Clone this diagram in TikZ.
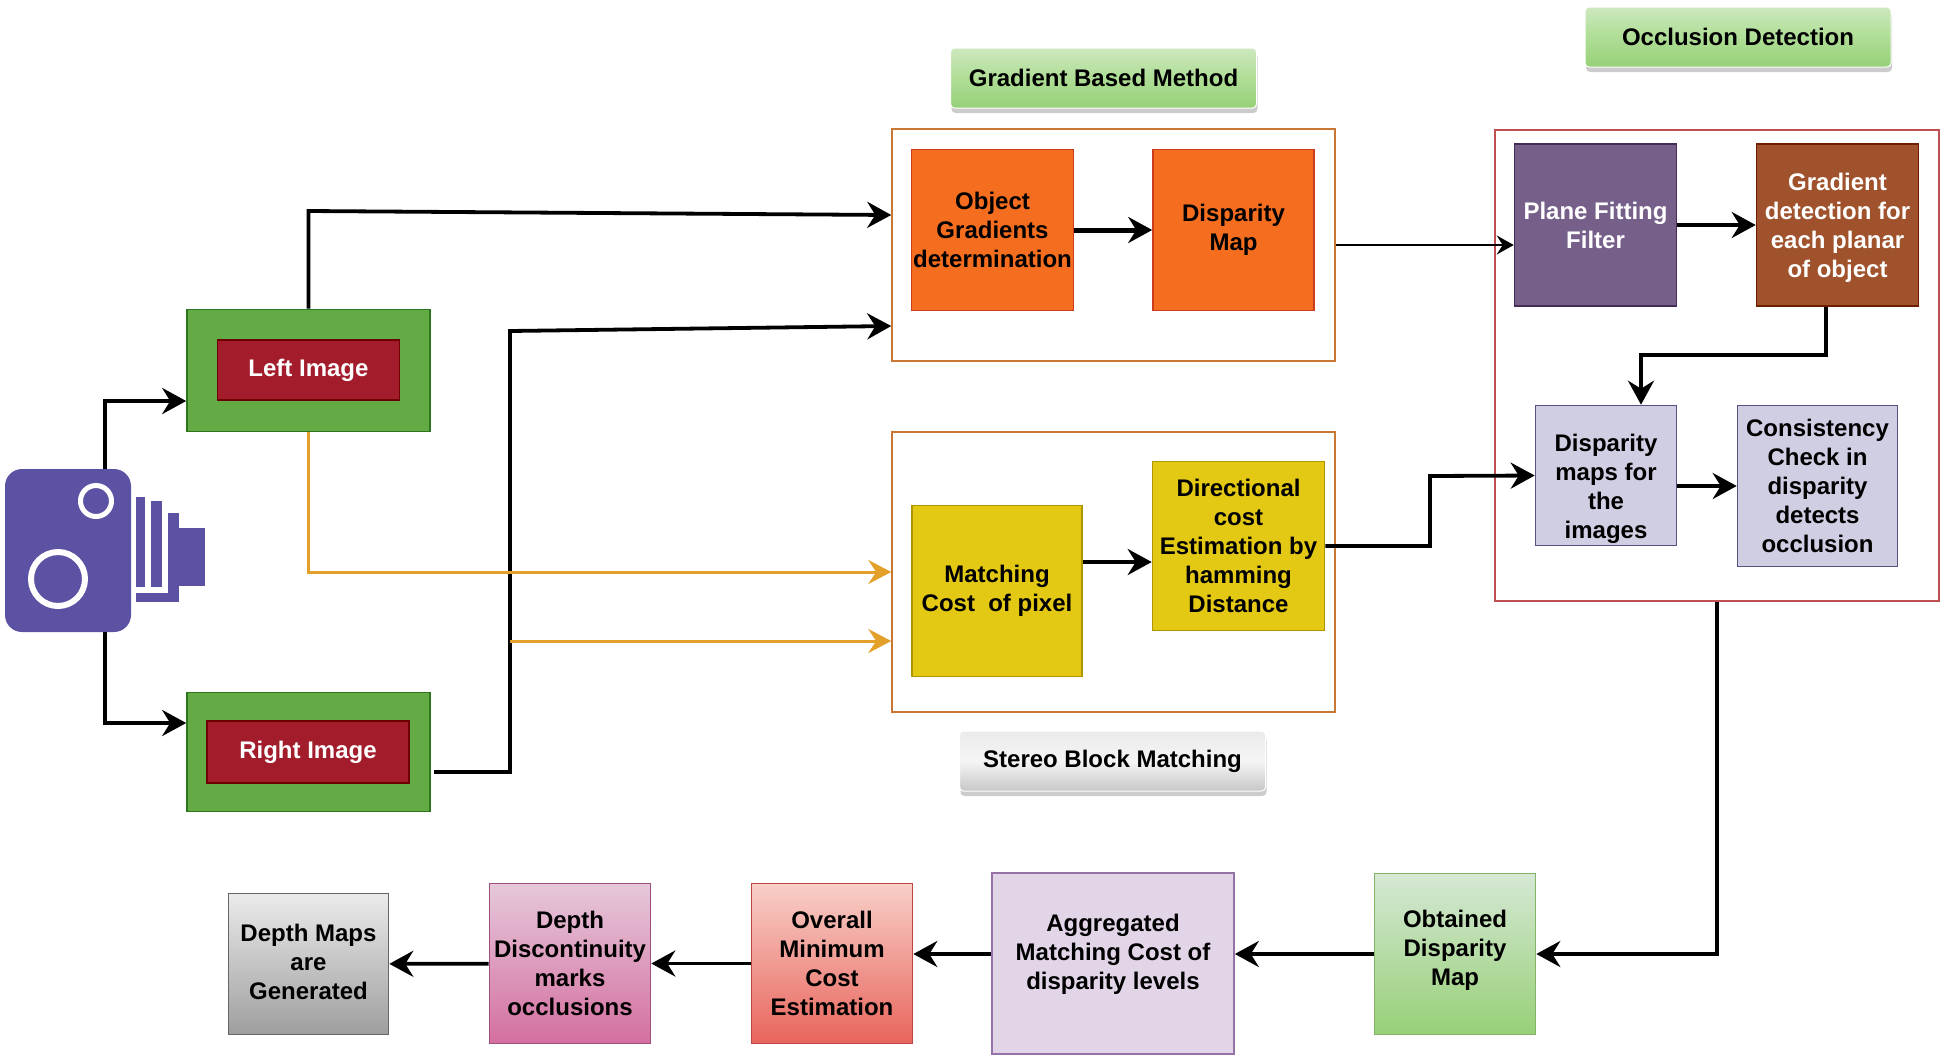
\documentclass[tikz,border=0pt]{standalone}
\usepackage{fontspec}
\setmainfont{Liberation Sans}
\usetikzlibrary{positioning,arrows.meta,calc,shadows}

\definecolor{camblue}{HTML}{5C52A3}
\definecolor{wireorange}{HTML}{E3A02A}

\tikzset{
  boxsize/.style 2 args={minimum width=#1pt,minimum height=#2pt},
  blk/.style={rectangle,inner sep=0pt,draw,line width=1.6pt,align=center,
    font=\fontsize{24}{29}\selectfont\bfseries},
  orangebox/.style={blk,fill={rgb,255:red,245;green,109;blue,31},draw={rgb,255:red,205;green,60;blue,30}},
  yellowbox/.style={blk,fill={rgb,255:red,227;green,200;blue,20},draw={rgb,255:red,176;green,149;blue,0}},
  lavbox/.style={blk,fill={rgb,255:red,208;green,206;blue,226},draw={rgb,255:red,86;green,81;blue,126}},
  greenbox/.style={blk,fill={rgb,255:red,98;green,171;blue,69},draw={rgb,255:red,45;green,118;blue,30}},
  redbox/.style={blk,text=white,fill={rgb,255:red,162;green,28;blue,44},draw={rgb,255:red,111;green,0;blue,0}},
  framebox/.style={rectangle,draw,line width=1.5pt},
  tagbox/.style={blk,draw=white,line width=1pt,rounded corners=4pt,boxsize={306}{60},
    drop shadow={shadow xshift=1pt,shadow yshift=-5pt,fill=black!40}},
  wire/.style={line width=3.8pt,-{Stealth[length=24pt,width=26pt,inset=8pt]}},
  thinwire/.style={line width=2pt,-{Stealth[length=17pt,width=19pt,inset=6pt]}},
  orangewire/.style={line width=3pt,draw=wireorange,-{Stealth[length=23pt,width=24pt,inset=8pt,fill=wireorange]}},
}

\begin{document}
\begin{tikzpicture}[x=1pt,y=-1pt]

  \useasboundingbox (0,0) rectangle (1945,1061);

  % the two framed groups
  \node[framebox,draw={rgb,255:red,200;green,120;blue,50},boxsize={443}{232}] (gradframe) at (1113.5,245) {};
  \node[framebox,draw={rgb,255:red,200;green,120;blue,50},boxsize={443}{280}] (stereoframe) at (1113.5,572) {};
  \node[framebox,draw={rgb,255:red,190;green,80;blue,80},boxsize={444}{471}] (occlframe) at (1717,365.5) {};

  % group titles
  \node[tagbox,top color={rgb,255:red,205;green,232;blue,190},bottom color={rgb,255:red,150;green,208;blue,120},middle color={rgb,255:red,175;green,222;blue,150}] (gradtag) at (1103.5,78) {Gradient Based Method};
  \node[tagbox,top color={rgb,255:red,205;green,232;blue,190},bottom color={rgb,255:red,150;green,208;blue,120},middle color={rgb,255:red,175;green,222;blue,150}] (occltag) at (1738,37) {Occlusion Detection};
  \node[tagbox,top color=black!8,bottom color=black!22,middle color=black!4] (stereotag) at (1112.5,761) {Stereo Block Matching};

  % camera
  \node[fill=camblue,rounded corners=17pt,inner sep=0pt,boxsize={126}{163}] (camera) at (68,550.5) {};
  \draw[white,line width=5pt] (96,501) circle (15.5);
  \draw[white,line width=6pt] (58,579) circle (27);
  \fill[camblue] (136,497) rectangle (145,587);
  \fill[camblue] (151,501) rectangle (162,587);
  \fill[camblue] (168,513) rectangle (179,602);
  \fill[camblue] (136,593) rectangle (179,602);
  \fill[camblue] (179,528) rectangle (205,586);

  % inputs
  \node[greenbox,boxsize={243}{122}] (leftouter) at (308.5,370.5) {};
  \node[redbox,boxsize={182}{60}] (leftimg) at (308.5,370) {Left Image};
  \node[greenbox,boxsize={243}{119}] (rightouter) at (308.5,752) {};
  \node[redbox,boxsize={202}{62}] (rightimg) at (308,752) {Right Image};

  % gradient based method
  \node[orangebox,boxsize={162}{161}] (objgrad) at (992.5,230) {Object\\Gradients\\determination};
  \node[orangebox,boxsize={161}{161}] (dispmap) at (1233.5,230) {Disparity\\Map};

  % stereo block matching
  \node[yellowbox,boxsize={170}{171}] (matchcost) at (997,591) {Matching\\Cost~ of pixel};
  \node[yellowbox,boxsize={172}{169}] (dircost) at (1238.5,546) {Directional\\cost\\Estimation by\\hamming\\Distance};

  % occlusion detection
  \node[blk,text=white,fill={rgb,255:red,118;green,96;blue,138},draw={rgb,255:red,67;green,45;blue,87},boxsize={162}{162}] (planefit) at (1595.5,225) {Plane Fitting\\Filter};
  \node[blk,text=white,fill={rgb,255:red,160;green,82;blue,45},draw={rgb,255:red,109;green,31;blue,0},boxsize={162}{162}] (graddet) at (1837.5,225) {\rule{0pt}{22pt}Gradient\\detection for\\each planar\\of object};
  \node[lavbox,boxsize={141}{140}] (dispmaps) at (1606,475.5) {\rule{0pt}{44pt}Disparity\\maps for\\the\\images};
  \node[lavbox,boxsize={160}{161}] (consist) at (1817.5,486) {Consistency\\Check in\\disparity\\detects\\occlusion};

  % bottom row
  \node[blk,draw={rgb,255:red,130;green,179;blue,102},top color={rgb,255:red,213;green,232;blue,212},bottom color={rgb,255:red,151;green,208;blue,119}] [boxsize={161}{161}] (obtained) at (1455,954) {Obtained\\Disparity\\Map\rule[-12pt]{0pt}{0pt}};
  \node[blk,draw={rgb,255:red,150;green,115;blue,166},fill={rgb,255:red,225;green,213;blue,231},boxsize={242}{181}] (aggreg) at (1113,963.5) {Aggregated\\Matching Cost of\\disparity levels\rule[-23pt]{0pt}{0pt}};
  \node[blk,draw={rgb,255:red,190;green,70;blue,70},top color={rgb,255:red,248;green,207;blue,200},bottom color={rgb,255:red,232;green,101;blue,92}] [boxsize={161}{160}] (overall) at (832,963.5) {Overall\\Minimum\\Cost\\Estimation};
  \node[blk,draw={rgb,255:red,160;green,80;blue,128},top color={rgb,255:red,230;green,200;blue,218},bottom color={rgb,255:red,212;green,111;blue,160}] [boxsize={161}{160}] (depthdisc) at (570,963.5) {Depth\\Discontinuity\\marks\\occlusions};
  \node[blk,draw=black!60,top color=black!8,bottom color=black!38] [boxsize={160}{141}] (depthmaps) at (308.5,964) {Depth Maps\\are\\Generated\rule[-5pt]{0pt}{0pt}};

  % free ends and bends
  \coordinate (leftbend) at (308.5,211);
  \coordinate (rightstart) at (434,772);
  \coordinate (rightbend) at (510,331);
  \coordinate (dirbend) at (1430,476);
  \coordinate (gradbend) at (1641,355);

  \draw[wire] ([xshift=37pt]camera.north) |- ([yshift=-30.5pt]leftouter.west);
  \draw[wire] ([xshift=37pt]camera.south) |- ([yshift=29pt]rightouter.west);
  \draw[wire] (leftouter.north) |- (leftbend) -- ([yshift=30pt]gradframe.west);
  \draw[wire] (rightstart) -| (rightbend) -- ([yshift=-81pt]gradframe.west);
  \draw[orangewire] (leftouter.south) |- (stereoframe.west);
  \draw[orangewire] (510,641) -- ([yshift=-69pt]stereoframe.west);

  \draw[wire,line width=5pt] (objgrad) -- (dispmap);
  \draw[wire] ([yshift=29pt]matchcost.east) -- ([yshift=-16pt]dircost.west);
  \draw[thinwire] (gradframe.east) -- ([yshift=-20pt]planefit.west);
  \draw[wire] (dircost.east) -| (dirbend) -- (dispmaps.west);
  \draw[wire] (planefit) -- (graddet);
  \draw[wire] ([xshift=-11.5pt]graddet.south) |- (gradbend) -- ([xshift=35pt]dispmaps.north);
  \draw[wire] ([yshift=-10.5pt]dispmaps.east) -- (consist.west);

  \draw[wire] (occlframe.south) |- (obtained.east);
  \draw[wire] (obtained.west) -- ([yshift=9.5pt]aggreg.east);
  \draw[wire] ([yshift=9.5pt]aggreg.west) -- ([yshift=9.5pt]overall.east);
  \draw[wire] (overall) -- (depthdisc);
  \draw[wire] (depthdisc) -- (depthmaps);

\end{tikzpicture}
\end{document}
